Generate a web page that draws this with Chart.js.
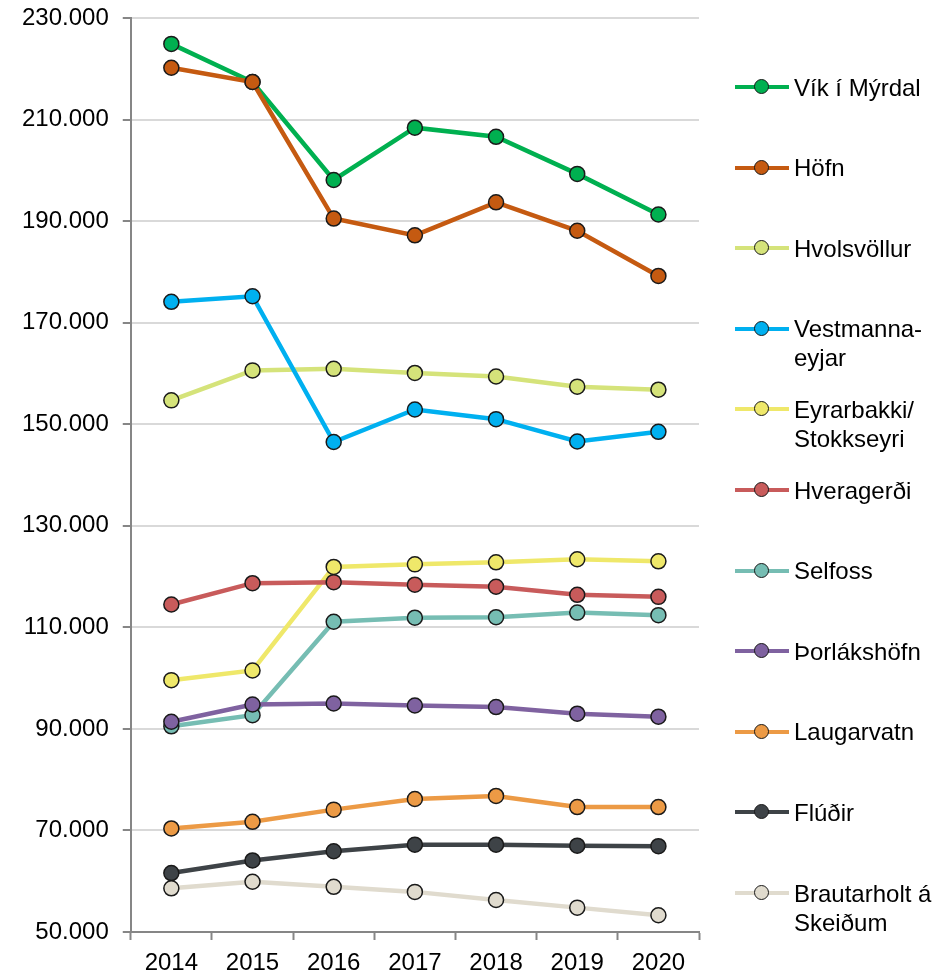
<!DOCTYPE html>
<html>
<head>
<meta charset="utf-8">
<script src="https://cdn.jsdelivr.net/npm/chart.js@4.4.1/dist/chart.umd.min.js"></script>
<style>
  html, body { margin: 0; padding: 0; background: #fff; }
  #wrap { position: relative; width: 951px; height: 976px; }
  #chart { display: block; }
  #legend { position: absolute; left: 0; top: 0; width: 951px; height: 976px; pointer-events: none; }
  .item { position: absolute; left: 735px; font: 24px "Liberation Sans", Arial, sans-serif; line-height: 29px; color: #000; }
  .swatch { position: absolute; left: 0; top: 0; width: 54px; height: 29px; }
  .swatch .ln { position: absolute; left: 0; top: 12.5px; width: 54px; height: 4px; }
  .swatch .dot { position: absolute; left: 19px; top: 6.5px; width: 13px; height: 13px; border: 1.5px solid #1a1a1a; border-radius: 50%; }
  .txt { position: absolute; left: 59px; top: 0; white-space: nowrap; }
</style>
</head>
<body>
<div id="wrap">
  <canvas id="chart" width="951" height="976"></canvas>
  <div id="legend"></div>
</div>
<script>
// years on the x axis
const years = ['2014', '2015', '2016', '2017', '2018', '2019', '2020'];

// y axis range
const yMin = 50000;
const yMax = 230000;
const yStep = 20000;

// one array per town
const vikIMyrdal     = [224900, 217400, 198100, 208400, 206600, 199300, 191300];
const hofn           = [220200, 217400, 190500, 187200, 193700, 188100, 179200];
const hvolsvollur    = [154700, 160600, 160900, 160100, 159400, 157400, 156800];
const vestmannaeyjar = [174100, 175200, 146500, 152900, 151000, 146600, 148500];
const eyrarbakki     = [99600, 101500, 121900, 122400, 122800, 123400, 123000];
const hveragerdi     = [114500, 118700, 118900, 118400, 118000, 116400, 116000];
const selfoss        = [90500, 92700, 111100, 111900, 112000, 112900, 112400];
const thorlakshofn   = [91400, 94800, 95000, 94600, 94300, 93000, 92400];
const laugarvatn     = [70400, 71700, 74100, 76200, 76800, 74600, 74600];
const fludir         = [61600, 64100, 65900, 67200, 67200, 67000, 66900];
const brautarholt    = [58600, 59900, 58900, 57900, 56300, 54800, 53300];

// legend labels (some wrap on two lines in the original)
const seriesNames = [
  ['Vík í Mýrdal'],
  ['Höfn'],
  ['Hvolsvöllur'],
  ['Vestmanna-', 'eyjar'],
  ['Eyrarbakki/', 'Stokkseyri'],
  ['Hveragerði'],
  ['Selfoss'],
  ['Þorlákshöfn'],
  ['Laugarvatn'],
  ['Flúðir'],
  ['Brautarholt á', 'Skeiðum']
];
const seriesData = [vikIMyrdal, hofn, hvolsvollur, vestmannaeyjar, eyrarbakki, hveragerdi,
  selfoss, thorlakshofn, laugarvatn, fludir, brautarholt];
const seriesColors = ['#00B050', '#C55A11', '#D5E37A', '#00B0F0', '#EFE86A', '#C85B5B',
  '#76BDB3', '#7F62A0', '#EC9A45', '#3E4347', '#E0DBCE'];

const FONT = '"Liberation Sans", Arial, sans-serif';
Chart.defaults.font.family = FONT;

// Icelandic thousands separator
const fmt = v => String(v).replace(/\B(?=(\d{3})+(?!\d))/g, '.');

const datasets = seriesData.map((d, i) => ({
  label: seriesNames[i].join(' '),
  data: d,
  borderColor: seriesColors[i],
  backgroundColor: seriesColors[i],
  borderWidth: 4.5,
  pointRadius: 7.5,
  pointHoverRadius: 7.5,
  pointBackgroundColor: seriesColors[i],
  pointBorderColor: '#1a1a1a',
  pointBorderWidth: 1.5,
  tension: 0,
  // later series drawn on top, like the original
  order: seriesData.length - i
}));

const chart = new Chart(document.getElementById('chart'), {
  type: 'line',
  data: { labels: years, datasets: datasets },
  options: {
    responsive: false,
    animation: false,
    devicePixelRatio: 1,
    layout: { padding: { left: 8, top: 18, right: 252, bottom: 0 } },
    plugins: {
      legend: { display: false },
      tooltip: { enabled: false }
    },
    scales: {
      x: {
        offset: true,
        afterFit: scale => { scale.height = 44; },
        grid: {
          offset: true,
          drawOnChartArea: false,
          drawTicks: true,
          tickLength: 8,
          tickColor: '#868686',
          tickWidth: 2
        },
        border: { color: '#868686', width: 2 },
        ticks: { color: '#000', font: { size: 24 }, padding: 9, maxRotation: 0 }
      },
      y: {
        min: yMin,
        max: yMax,
        // the label padding should not push the plot down
        afterFit: scale => { scale.paddingTop = 0; scale.paddingBottom = 0; },
        grid: {
          color: '#d9d9d9',
          lineWidth: 2,
          tickColor: '#868686',
          tickLength: 8,
          tickWidth: 2
        },
        border: { color: '#868686', width: 2 },
        ticks: {
          stepSize: yStep,
          color: '#000',
          font: { size: 24 },
          padding: 14,
          callback: v => fmt(v)
        }
      }
    }
  }
});

// HTML legend on the right, built from the chart's datasets
const legendEl = document.getElementById('legend');
chart.data.datasets.forEach((ds, i) => {
  const item = document.createElement('div');
  item.className = 'item';
  item.style.top = (87 + i * 80.6 - 14.5) + 'px';
  const sw = document.createElement('span');
  sw.className = 'swatch';
  sw.innerHTML = '<span class="ln" style="background:' + ds.borderColor + '"></span>' +
    '<span class="dot" style="background:' + ds.borderColor + '"></span>';
  const txt = document.createElement('span');
  txt.className = 'txt';
  seriesNames[i].forEach((line, k) => {
    if (k > 0) txt.appendChild(document.createElement('br'));
    txt.appendChild(document.createTextNode(line));
  });
  item.appendChild(sw);
  item.appendChild(txt);
  legendEl.appendChild(item);
});
</script>
</body>
</html>
